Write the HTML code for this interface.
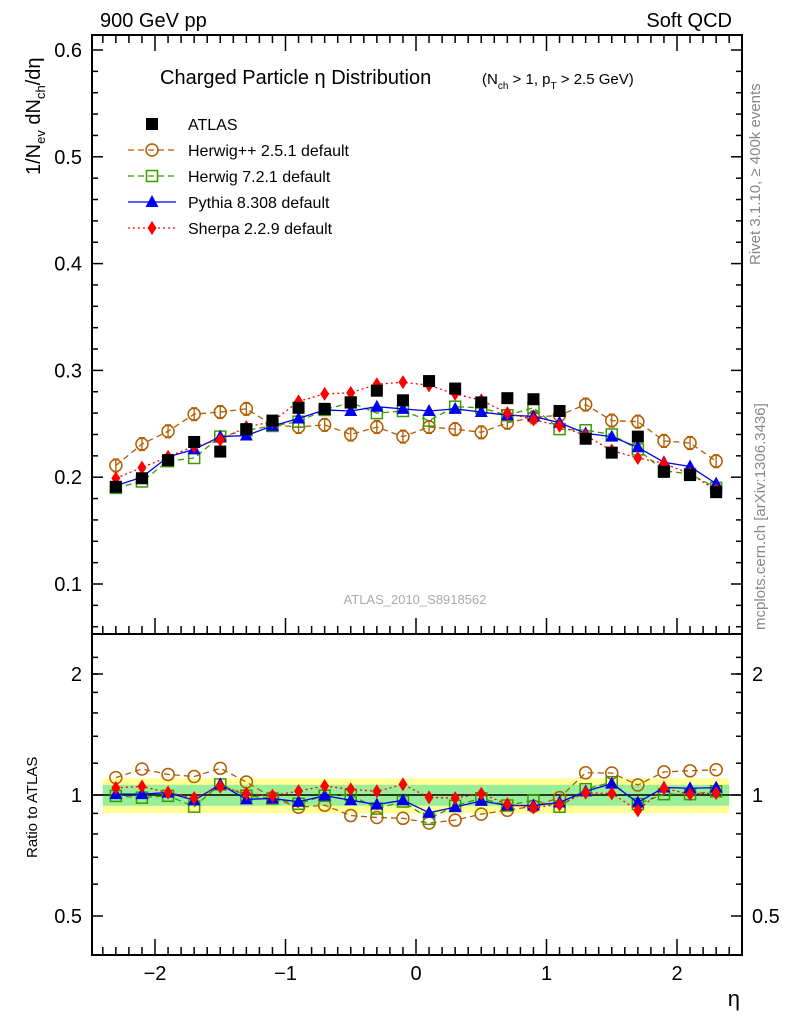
<!DOCTYPE html>
<html><head><meta charset="utf-8"><style>
body{margin:0;background:#fff;width:786px;height:1024px;overflow:hidden}
svg{font-family:"Liberation Sans",sans-serif}
</style></head><body>
<svg id="c" width="786" height="1024" xmlns="http://www.w3.org/2000/svg">
<text x="100" y="27" font-size="20">900 GeV pp</text>
<text x="732" y="27" font-size="20" text-anchor="end">Soft QCD</text>
<text x="160" y="84" font-size="20">Charged Particle η Distribution</text>
<text x="482" y="84" font-size="15">(N<tspan font-size="10" dy="5">ch</tspan><tspan dy="-5"> &gt; 1, p</tspan><tspan font-size="10" dy="5">T</tspan><tspan dy="-5"> &gt; 2.5 GeV)</tspan></text>
<text x="415" y="604" font-size="13" fill="#aaa" text-anchor="middle">ATLAS_2010_S8918562</text>
<text transform="translate(760,265) rotate(-90)" font-size="15" fill="#888">Rivet 3.1.10, ≥ 400k events</text>
<text transform="translate(765,630) rotate(-90)" font-size="15" fill="#888">mcplots.cern.ch [arXiv:1306.3436]</text>
<text transform="translate(40,175) rotate(-90)" font-size="20">1/N<tspan font-size="13" dy="5">ev</tspan><tspan dy="-5"> dN</tspan><tspan font-size="13" dy="5">ch</tspan><tspan dy="-5">/dη</tspan></text>
<text transform="translate(37,858) rotate(-90)" font-size="15">Ratio to ATLAS</text>
<text x="740" y="1006" font-size="22" text-anchor="end">η</text>
<g id="g"></g>
</svg>
<script>
const etas=[-2.3,-2.1,-1.9,-1.7,-1.5,-1.3,-1.1,-0.9,-0.7,-0.5,-0.3,-0.1,0.1,0.3,0.5,0.7,0.9,1.1,1.3,1.5,1.7,1.9,2.1,2.3];
const atlas=[0.191,0.199,0.216,0.233,0.224,0.245,0.253,0.265,0.264,0.270,0.281,0.272,0.290,0.283,0.270,0.274,0.273,0.262,0.236,0.223,0.238,0.205,0.202,0.186];
const herwigpp=[0.211,0.231,0.243,0.259,0.261,0.264,0.249,0.247,0.249,0.240,0.247,0.238,0.247,0.245,0.242,0.251,0.256,0.258,0.268,0.253,0.252,0.234,0.232,0.215];
const herwig7=[0.190,0.196,0.215,0.218,0.238,0.244,0.248,0.252,0.263,0.270,0.260,0.262,0.253,0.266,0.265,0.258,0.265,0.245,0.244,0.240,0.226,0.206,0.203,0.190];
const pythia=[0.192,0.200,0.219,0.226,0.238,0.239,0.248,0.255,0.263,0.262,0.266,0.264,0.262,0.264,0.261,0.258,0.257,0.251,0.241,0.238,0.228,0.214,0.210,0.194];
const sherpa=[0.199,0.209,0.219,0.229,0.235,0.247,0.252,0.271,0.278,0.279,0.287,0.289,0.286,0.278,0.272,0.260,0.254,0.248,0.239,0.225,0.218,0.213,0.203,0.188];
const yTicks=[0.1,0.2,0.3,0.4,0.5,0.6];
const rTicks=[0.5,1,2];
const xTicks=[-2,-1,0,1,2];
const X0=92,X1=742,T=35,M=634,B=955;
const xs=e=>416+130.5*e;
const ym=v=>50+(0.6-v)*1068;
const yr=r=>795-121*Math.log2(r);
const g=document.getElementById('g');
const NS='http://www.w3.org/2000/svg';
function mk(t,a,p){const e=document.createElementNS(NS,t);for(const k in a)e.setAttribute(k,a[k]);(p||g).appendChild(e);return e;}
// bands
const by=mk('path',{d:'M'+xs(-2.4)+' '+yr(1.1)+'H'+xs(2.4)+'V'+yr(0.9)+'H'+xs(-2.4)+'Z',fill:'#ffff99'});

const bg=mk('path',{d:'M'+xs(-2.4)+' '+yr(1.06)+'H'+xs(2.4)+'V'+yr(0.94)+'H'+xs(-2.4)+'Z',fill:'#99ee99'});

const ul=mk('line',{x1:X0,x2:X1,y1:yr(1),y2:yr(1),stroke:'#000','stroke-width':1.5});

// frames
for(const [a,b,n] of [[T,M,'main-frame'],[M,B,'ratio-frame']]){const r=mk('rect',{x:X0,y:a,width:X1-X0,height:b-a,fill:'none',stroke:'#000','stroke-width':2});}
// x ticks
for(let i=-24;i<=24;i++){const e=i/10,x=xs(e),maj=i%10==0,L=maj?16:8;
 for(const y of [M,B])mk('line',{x1:x,x2:x,y1:y,y2:y-L,stroke:'#000','stroke-width':1.5});
 mk('line',{x1:x,x2:x,y1:T,y2:T+L,stroke:'#000','stroke-width':1.5});}
xTicks.forEach(e=>{const t=mk('text',{x:xs(e),y:980,'font-size':20,'text-anchor':'middle'});t.textContent=(e<0?'−'+(-e):e);
 });
// main y ticks
for(let v=0.06;v<=0.62;v+=0.02){const y=ym(v);if(y<T||y>M)continue;const maj=Math.abs(v*10-Math.round(v*10))<1e-6,L=maj?11:6;
 mk('line',{x1:X0,x2:X0+L,y1:y,y2:y,stroke:'#000','stroke-width':1.5});mk('line',{x1:X1,x2:X1-L,y1:y,y2:y,stroke:'#000','stroke-width':1.5});}
yTicks.forEach(v=>{const t=mk('text',{x:82,y:ym(v)+7,'font-size':20,'text-anchor':'end'});t.textContent=v.toFixed(1);
 });
// ratio ticks
[0.4,0.5,0.6,0.7,0.8,0.9,1,2].forEach(r=>{const y=yr(r);if(y<M||y>B)return;const maj=rTicks.includes(r),L=maj?11:6;
 mk('line',{x1:X0,x2:X0+L,y1:y,y2:y,stroke:'#000','stroke-width':1.5});mk('line',{x1:X1,x2:X1-L,y1:y,y2:y,stroke:'#000','stroke-width':1.5});});
for(let r=1.2;r<2.4;r+=0.2){const y=yr(r);if(y<M)break;mk('line',{x1:X0,x2:X0+6,y1:y,y2:y,stroke:'#000','stroke-width':1.5});mk('line',{x1:X1,x2:X1-6,y1:y,y2:y,stroke:'#000','stroke-width':1.5});}
rTicks.forEach(r=>{for(const [x,a] of [[82,'end'],[752,'start']]){const t=mk('text',{x:x,y:yr(r)+7,'font-size':20,'text-anchor':a});t.textContent=r;
 }});
// markers
function marker(kind,x,y,col){
 if(kind=='sq')return mk('rect',{x:x-6,y:y-6,width:12,height:12,fill:'#000'});
 if(kind=='circ')return mk('circle',{cx:x,cy:y,r:6,fill:'none',stroke:col,'stroke-width':1.5});
 if(kind=='osq')return mk('rect',{x:x-5.5,y:y-5.5,width:11,height:11,fill:'none',stroke:col,'stroke-width':1.5});
 if(kind=='tri')return mk('path',{d:`M${x} ${y-7}L${x+6.5} ${y+5}L${x-6.5} ${y+5}Z`,fill:col});
 if(kind=='dia')return mk('path',{d:`M${x} ${y-7}L${x+4.5} ${y}L${x} ${y+7}L${x-4.5} ${y}Z`,fill:col});
}
const series=[
 {n:'herwigpp',d:herwigpp,c:'#b35c00',k:'circ',dash:'6,4',err:0.006},
 {n:'herwig7',d:herwig7,c:'#3a9a00',k:'osq',dash:'6,4',err:0},
 {n:'pythia',d:pythia,c:'#0000ee',k:'tri',dash:'',err:0},
 {n:'sherpa',d:sherpa,c:'#ff0000',k:'dia',dash:'2,3',err:0}];
series.forEach(s=>{
 const pm=s.d.map((v,i)=>xs(etas[i])+','+ym(v)).join(' ');
 const l=mk('polyline',{points:pm,fill:'none',stroke:s.c,'stroke-width':1.3,'stroke-dasharray':s.dash});
 
 const pr=s.d.map((v,i)=>xs(etas[i])+','+yr(v/atlas[i])).join(' ');
 const lr=mk('polyline',{points:pr,fill:'none',stroke:s.c,'stroke-width':1.3,'stroke-dasharray':s.dash});
 
 s.d.forEach((v,i)=>{const x=xs(etas[i]);
  if(s.err){mk('line',{x1:x,x2:x,y1:ym(v+s.err),y2:ym(v-s.err),stroke:s.c,'stroke-width':1.3});
   mk('line',{x1:x-3,x2:x+3,y1:ym(v+s.err),y2:ym(v+s.err),stroke:s.c,'stroke-width':1.3});
   mk('line',{x1:x-3,x2:x+3,y1:ym(v-s.err),y2:ym(v-s.err),stroke:s.c,'stroke-width':1.3});}
  const m=marker(s.k,x,ym(v),s.c);
  const m2=marker(s.k,x,yr(v/atlas[i]),s.c);});
});
atlas.forEach((v,i)=>{const m=marker('sq',xs(etas[i]),ym(v));});
// legend
const leg=[['ATLAS','sq','#000',''],['Herwig++ 2.5.1 default','circ','#b35c00','6,4'],['Herwig 7.2.1 default','osq','#3a9a00','6,4'],['Pythia 8.308 default','tri','#0000ee',''],['Sherpa 2.2.9 default','dia','#ff0000','2,3']];
leg.forEach((L,i)=>{const y=124+26*i;
 if(i>0){const ln=mk('line',{x1:128,x2:176,y1:y,y2:y,stroke:L[2],'stroke-width':1.3,'stroke-dasharray':L[3]});}
 const m=marker(L[1],152,y,L[2]);
 const t=mk('text',{x:188,y:y+6,'font-size':16});t.textContent=L[0];});
</script>
</body></html>
